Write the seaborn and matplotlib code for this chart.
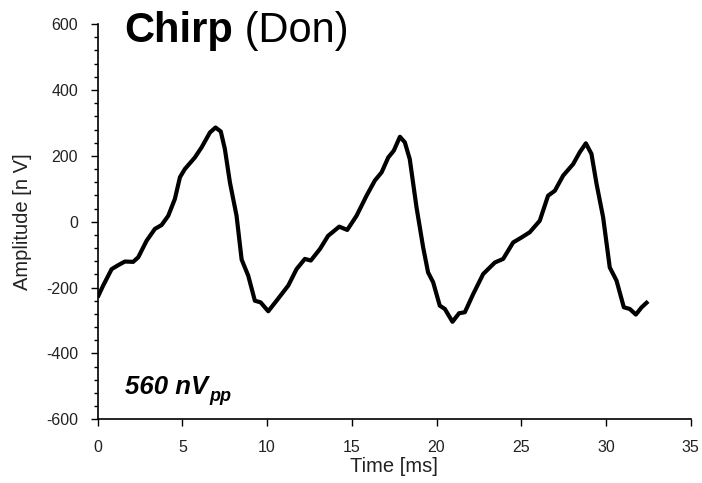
import matplotlib
matplotlib.use("Agg")
import matplotlib.pyplot as plt
from matplotlib.ticker import MultipleLocator
import seaborn as sns
import pandas as pd

# ---- data ----
time_ms = [0.0, 0.33, 0.83, 1.22, 1.61, 2.1, 2.4, 2.89, 3.38, 3.78, 4.17, 4.56,
           4.86, 5.15, 5.74, 6.14, 6.63, 6.96, 7.27, 7.51, 7.81, 8.2, 8.5, 8.89,
           9.28, 9.62, 10.07, 10.56, 11.25, 11.74, 12.23, 12.58, 13.12, 13.6,
           14.26, 14.73, 15.28, 15.87, 16.36, 16.76, 17.15, 17.48, 17.84, 18.13,
           18.42, 18.82, 19.21, 19.5, 19.8, 20.19, 20.49, 20.94, 21.33, 21.67,
           22.16, 22.75, 23.44, 23.93, 24.52, 25.01, 25.5, 26.09, 26.58, 26.98,
           27.47, 28.06, 28.45, 28.81, 29.14, 29.44, 29.83, 30.22, 30.62, 31.05,
           31.4, 31.76, 32.1, 32.48]
amplitude_nv = [-230, -194, -144, -132, -121, -122, -108, -58, -22, -10, 18, 69,
                135, 160, 195, 226, 271, 286, 274, 221, 119, 18, -115, -164,
                -240, -245, -272, -240, -194, -144, -113, -118, -83, -43,
                -15, -25, 18, 79, 125, 150, 195, 216, 258, 241,
                190, 43, -78, -154, -184, -255, -265, -304, -278, -275,
                -220, -159, -124, -113, -63, -48, -32, 3, 79, 94,
                140, 175, 211, 238, 206, 115, 13, -139, -179, -260,
                -265, -282, -260, -242]
x_ticks = [0, 5, 10, 15, 20, 25, 30, 35]
y_ticks = [-600, -400, -200, 0, 200, 400, 600]
title_bold = "Chirp"
title_rest = " (Don)"
annotation = "560 nV"
annotation_sub = "pp"

df = pd.DataFrame({"Time": time_ms, "Amplitude": amplitude_nv})

sns.set_style("ticks")
plt.rcParams["font.family"] = ["Liberation Sans", "DejaVu Sans"]
plt.rcParams["axes.unicode_minus"] = False

fig = plt.figure(figsize=(7.02, 4.83), dpi=100)
ax = fig.add_axes([0.139, 0.132, 0.845, 0.818])

sns.lineplot(data=df, x="Time", y="Amplitude", sort=False, estimator=None,
             color="black", linewidth=3.0, ax=ax)
for ln in ax.lines:
    ln.set_solid_joinstyle("round")
    ln.set_solid_capstyle("butt")

ax.set_xlim(0, 35)
ax.set_ylim(-600, 600)
ax.set_xticks(x_ticks)
ax.set_yticks(y_ticks)
ax.yaxis.set_minor_locator(MultipleLocator(40))
ax.tick_params(axis="both", which="major", direction="out", length=5, width=1.0,
               labelsize=11.5, colors="black", labelcolor="#222222")
ax.tick_params(axis="y", which="major", pad=9)
ax.tick_params(axis="x", which="major", pad=10)
ax.tick_params(axis="y", which="minor", direction="out", length=3, width=1.0,
               colors="black")
for s in ["top", "right"]:
    ax.spines[s].set_visible(False)
for s in ["left", "bottom"]:
    ax.spines[s].set_linewidth(1.2)
    ax.spines[s].set_color("black")

ax.set_xlabel("Time [ms]", fontsize=14.5, color="#222222", labelpad=1.5)
ax.set_ylabel("Amplitude [n V]", fontsize=14.5, color="#222222", labelpad=10)

# title inside plot
t1 = ax.text(1.6, 545, title_bold, fontsize=30, fontweight="bold",
             va="baseline", ha="left", color="black")
fig.canvas.draw()
bb = t1.get_window_extent(fig.canvas.get_renderer())
ax.annotate(title_rest, xy=(bb.x1, 545), xycoords=("figure pixels", "data"),
            fontsize=30, va="baseline", ha="left", color="black",
            annotation_clip=False)

# amplitude annotation
t2 = ax.text(1.6, -522, annotation, fontsize=18.5, fontweight="bold",
             fontstyle="italic", va="baseline", ha="left", color="black")
fig.canvas.draw()
bb2 = t2.get_window_extent(fig.canvas.get_renderer())
ax.annotate(annotation_sub, xy=(bb2.x1, -522), xycoords=("figure pixels", "data"),
            xytext=(1, -5), textcoords="offset points", fontsize=13,
            fontweight="bold", fontstyle="italic", va="baseline", ha="left",
            color="black", annotation_clip=False)

fig.savefig("out.png", dpi=100)
